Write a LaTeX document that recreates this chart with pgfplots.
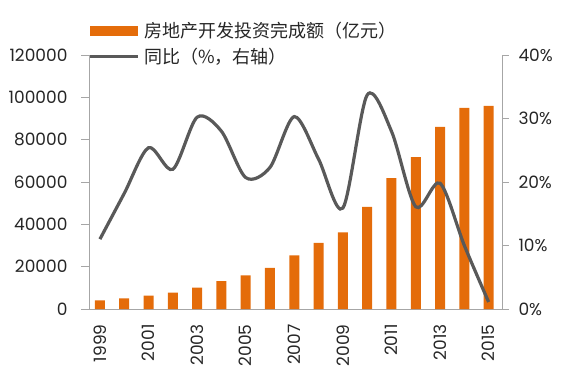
\documentclass[border=0pt]{standalone}
\usepackage{fontspec}
\setmainfont{Poppins}
\newfontfamily\cjk{Noto Sans CJK SC}
\usepackage{pgfplots}
\pgfplotsset{compat=1.18}
\definecolor{barorange}{HTML}{E46C0A}
\definecolor{linegrey}{HTML}{595959}
\definecolor{axisgrey}{HTML}{A6A6A6}
\definecolor{txt}{HTML}{262626}
\begin{document}
\begin{tikzpicture}[x=1pt,y=1pt]
\path[use as bounding box] (-89,-69) rectangle (476,309);
\begin{axis}[
  scale only axis, width=413pt, height=254pt,
  at={(0,0)}, anchor=south west,
  xmin=1998.55, xmax=2015.55, ymin=0, ymax=120000,
  axis y line*=left, axis x line*=bottom,
  axis line style={axisgrey, line width=0.9pt, -},
  xtick={1999,2001,...,2015},
  xtick style={draw=none},
  ytick={0,20000,...,120000},
  ytick style={axisgrey, line width=0.9pt},
  tick align=outside, major tick length=8pt,
  scaled y ticks=false,
  /pgf/number format/assume math mode=true,
  /pgf/number format/fixed,
  /pgf/number format/precision=0,
  /pgf/number format/1000 sep={},
  xticklabel shift=4pt,
  yticklabel shift=10pt,
  xticklabel style={rotate=90, anchor=east, font=\fontsize{17}{17}\selectfont, text=txt},
  yticklabel style={font=\fontsize{17}{17}\selectfont, text=txt},
  legend style={at={(axis description cs:0,1)}, anchor=north west, xshift=1pt, yshift=31pt,
    draw=none, fill=none, inner sep=0pt,
    nodes={inner sep=0pt, text height=13pt, text depth=3pt, font=\cjk\fontsize{18}{18}\selectfont, text=txt},
    row sep=10pt, /tikz/column sep=0pt},
  legend cell align=left,
]
\addplot[ybar, bar width=10pt, bar shift=0pt, fill=barorange, draw=none,
  legend image code/.code={}]
coordinates {
(1999,4103) (2000,4984) (2001,6344) (2002,7791) (2003,10154) (2004,13158)
(2005,15909) (2006,19423) (2007,25289) (2008,31203) (2009,36242) (2010,48259)
(2011,61797) (2012,71804) (2013,86013) (2014,95036) (2015,95979)
};
\addlegendentry{{\color{barorange}\rule[1.5pt]{48pt}{10pt}}\hspace{6pt}房地产开发投资完成额（亿元）}
\addlegendimage{legend image code/.code={}}
\addlegendentry{{\color{linegrey}\rule[5pt]{48pt}{3.2pt}}\hspace{6pt}同比（\%，右轴）}
\end{axis}
\begin{axis}[
  scale only axis, width=413pt, height=254pt,
  at={(0,0)}, anchor=south west,
  xmin=1998.55, xmax=2015.55, ymin=0, ymax=40,
  axis y line*=right, hide x axis,
  axis line style={axisgrey, line width=0.9pt, -},
  ytick={0,10,...,40},
  ytick style={axisgrey, line width=0.9pt},
  tick align=outside, major tick length=7pt,
  /pgf/number format/assume math mode=true,
  /pgf/number format/fixed,
  /pgf/number format/precision=0,
  yticklabel={\pgfmathprintnumber{\tick}\%},
  yticklabel shift=6pt,
  yticklabel style={font=\fontsize{17}{17}\selectfont, text=txt},
]
\addplot[linegrey, line width=3.2pt, smooth, mark=none]
coordinates {
(1999,11.0) (2000,18.2) (2001,25.4) (2002,22.0) (2003,30.2) (2004,28.0)
(2005,20.7) (2006,22.3) (2007,30.3) (2008,23.6) (2009,15.9) (2010,33.7)
(2011,28.0) (2012,16.1) (2013,19.8) (2014,10.0) (2015,1.1)
};
\end{axis}
\end{tikzpicture}
\end{document}
